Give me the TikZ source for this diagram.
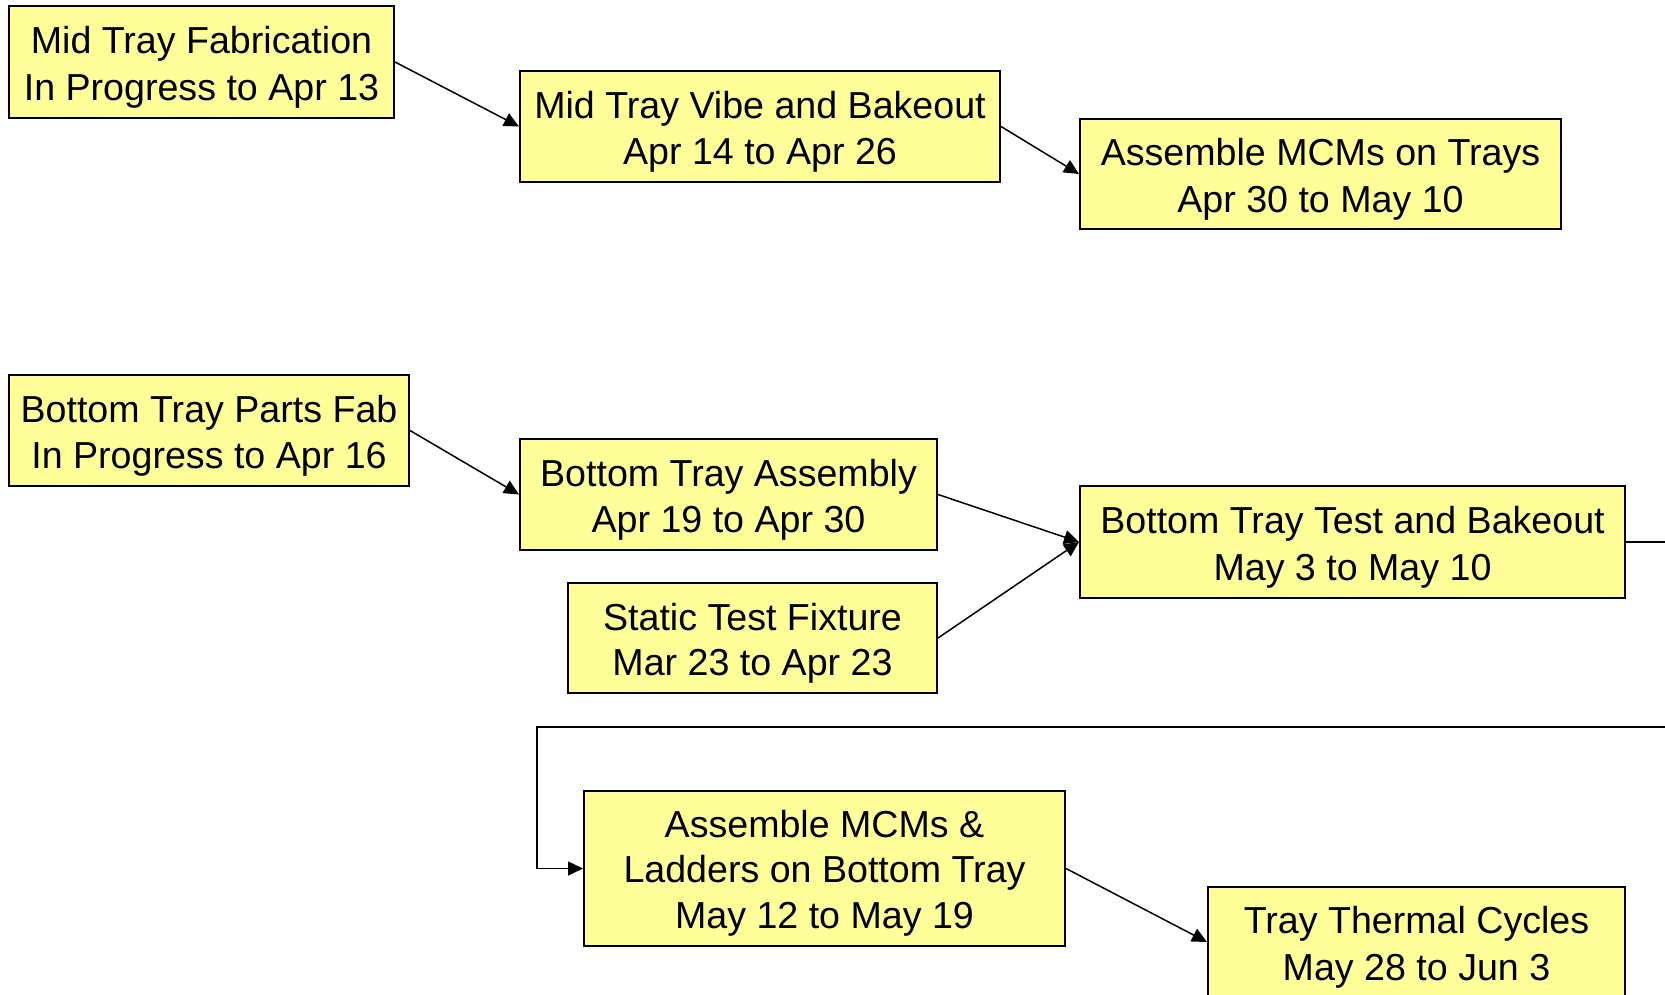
\documentclass[tikz,border=0pt]{standalone}
\usepackage{fontspec}
\setmainfont{Liberation Sans}
\usetikzlibrary{arrows.meta}
\definecolor{boxfill}{HTML}{FFFF99}
\newcommand\ls{\rule[-7pt]{0pt}{44.6pt}}
\begin{document}
\begin{tikzpicture}[x=1pt,y=-1pt,
  box/.style={draw=black, line width=2pt, fill=boxfill, rectangle, inner sep=0pt,
    align=center, font=\fontsize{37.6}{44.6}\selectfont},
  conn/.style={line width=1.5pt, -{Triangle[length=15pt,width=14pt]}}]
\useasboundingbox (0,0) rectangle (1665,995);
\clip (0,0) rectangle (1665,995);
\node[box, minimum width=385pt, minimum height=112pt] (b1) at (201.5,62) {\ls Mid Tray Fabrication\\\ls In Progress to Apr 13};
\node[box, minimum width=480pt, minimum height=111pt] (b2) at (760,126.5) {\ls Mid Tray Vibe and Bakeout\\\ls Apr 14 to Apr 26};
\node[box, minimum width=481pt, minimum height=110pt] (b3) at (1320.5,174) {\ls Assemble MCMs on Trays\\\ls Apr 30 to May 10};
\node[box, minimum width=400pt, minimum height=111pt] (b4) at (209,430.5) {\ls Bottom Tray Parts Fab\\\ls In Progress to Apr 16};
\node[box, minimum width=417pt, minimum height=111pt] (b5) at (728.5,494.5) {\ls Bottom Tray Assembly\\\ls Apr 19 to Apr 30};
\node[box, minimum width=369pt, minimum height=110pt] (b6) at (752.5,638) {\ls Static Test Fixture\\\ls Mar 23 to Apr 23};
\node[box, minimum width=545pt, minimum height=112pt] (b7) at (1352.5,542) {\ls Bottom Tray Test and Bakeout\\\ls May 3 to May 10};
\node[box, minimum width=481pt, minimum height=155pt] (b8) at (824.5,868.5) {\ls Assemble MCMs \&\\\ls Ladders on Bottom Tray\\\ls May 12 to May 19};
\node[box, minimum width=417pt, minimum height=110pt] (b9) at (1416.5,942) {\ls Tray Thermal Cycles\\\ls May 28 to Jun 3};
\coordinate (r1) at (1720,542);
\coordinate (r2) at (1720,727);
\coordinate (l1) at (537,727);
\draw[conn] (b1.east) -- (b2.west);
\draw[conn] (b2.east) -- (b3.west);
\draw[conn] (b4.east) -- (b5.west);
\draw[conn] (b5.east) -- (b7.west);
\draw[conn] (b6.east) -- (b7.west);
\draw[conn] (b7.east) -- (r1) -- (r2) -- (l1) |- (b8.west);
\draw[conn] (b8.east) -- (b9.west);
\end{tikzpicture}
\end{document}
